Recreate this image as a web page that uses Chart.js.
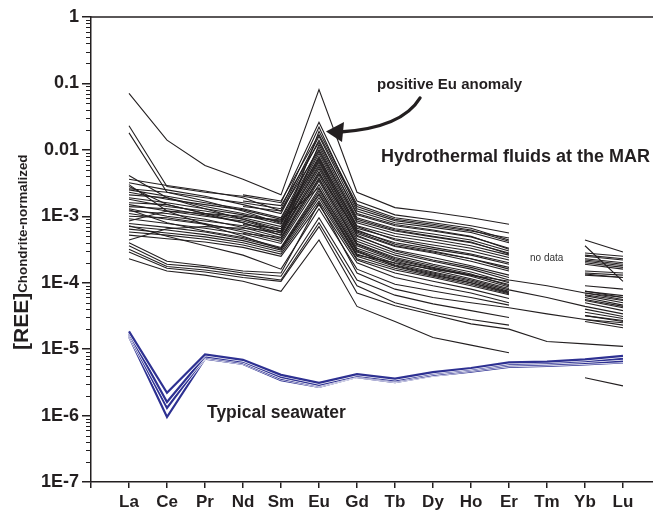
<!DOCTYPE html>
<html>
<head>
<meta charset="utf-8">
<script src="https://cdn.jsdelivr.net/npm/chart.js@4.4.0/dist/chart.umd.min.js"></script>
<style>
html, body { margin: 0; padding: 0; background: #fff; }
canvas { display: block; }
</style>
</head>
<body>
<canvas id="reeChart" width="653" height="512"></canvas>
<script>
// REE patterns, chondrite-normalized
var elements = ['La', 'Ce', 'Pr', 'Nd', 'Sm', 'Eu', 'Gd', 'Tb', 'Dy', 'Ho', 'Er', 'Tm', 'Yb', 'Lu'];
var yTickValues = [1e-7, 1e-6, 1e-5, 1e-4, 1e-3, 0.01, 0.1, 1];
var yTickLabels = ['1E-7', '1E-6', '1E-5', '1E-4', '1E-3', '0.01', '0.1', '1'];
var minorSteps = [2, 3, 4, 5, 6, 7, 8, 9];

// hydrothermal fluids at the MAR (null = no data)
var fluids = [
    [0.071, 0.014, 5.8e-3, 3.6e-3, 2.1e-3, 0.081, 2.3e-3, 1.35e-3, 1.15e-3, 9.5e-4, 7.6e-4, null, null, null],
    [0.023, 2.8e-3, 2.3e-3, 2.0e-3, 1.6e-3, 0.026, 1.7e-3, 1.05e-3, 8.8e-4, 7.2e-4, 5.6e-4, null, 4.4e-4, 2.9e-4],
    [0.018, 2.3e-3, 1.9e-3, 1.6e-3, 1.3e-3, 0.022, 1.3e-3, 8.6e-4, 7.2e-4, 6.0e-4, 4.7e-4, null, 3.6e-4, 1.05e-4],
    [4.1e-3, 1.9e-3, 1.3e-3, 9.0e-4, 6.0e-4, 0.019, 1.5e-3, 9.5e-4, 8.0e-4, 6.6e-4, 4.4e-4, null, 2.5e-4, 2.2e-4],
    [3.6e-3, 2.9e-3, 2.4e-3, 1.9e-3, 1.2e-3, 0.016, 1.2e-3, 8.0e-4, 6.8e-4, 5.7e-4, 4.0e-4, null, 2.3e-4, 2.0e-4],
    [3.2e-3, 2.5e-3, 2.0e-3, 1.5e-3, 1.1e-3, 0.014, 1.05e-3, 7.2e-4, 6.0e-4, 4.9e-4, 3.3e-4, null, 2.1e-4, 1.8e-4],
    [2.8e-3, 1.5e-3, 1.1e-3, 8.0e-4, 5.2e-4, 0.012, 9.5e-4, 6.5e-4, 5.4e-4, 4.4e-4, 3.0e-4, null, 2.0e-4, 1.7e-4],
    [2.5e-3, 2.0e-3, 1.6e-3, 1.3e-3, 9.5e-4, 0.011, 8.5e-4, 6.0e-4, 4.9e-4, 4.0e-4, 2.8e-4, null, 1.5e-4, 1.4e-4],
    [2.3e-3, 1.8e-3, 1.5e-3, 1.25e-3, 9.0e-4, 9.5e-3, 8.0e-4, 5.5e-4, 4.5e-4, 3.6e-4, 2.6e-4, null, 1.4e-4, 1.3e-4],
    [2.1e-3, 1.9e-3, 1.4e-3, 1.1e-3, 8.2e-4, 8.8e-3, 7.2e-4, 5.0e-4, 4.1e-4, 3.3e-4, 2.4e-4, null, 1.35e-4, 1.2e-4],
    [1.9e-3, 1.6e-3, 1.3e-3, 1.05e-3, 7.6e-4, 8.0e-3, 6.6e-4, 4.6e-4, 3.7e-4, 3.0e-4, 2.2e-4, null, null, null],
    [1.8e-3, 1.4e-3, 1.2e-3, 9.5e-4, 7.0e-4, 7.2e-3, 6.0e-4, 4.0e-4, 3.2e-4, 2.6e-4, 1.9e-4, null, null, null],
    [1.6e-3, 1.5e-3, 1.1e-3, 9.0e-4, 6.5e-4, 6.5e-3, 5.5e-4, 3.5e-4, 2.8e-4, 2.1e-4, 1.5e-4, null, 7.5e-5, 6.0e-5],
    [1.5e-3, 1.2e-3, 1.0e-3, 8.5e-4, 6.0e-4, 6.0e-3, 5.0e-4, 3.1e-4, 2.4e-4, 1.8e-4, 1.3e-4, null, 7.0e-5, 5.6e-5],
    [1.4e-3, 1.3e-3, 1.05e-3, 8.0e-4, 5.6e-4, 5.2e-3, 4.6e-4, 2.8e-4, 2.1e-4, 1.6e-4, 1.1e-4, 9.0e-5, 7.0e-5, 6.0e-5],
    [1.3e-3, 1.0e-3, 8.5e-4, 7.2e-4, 5.2e-4, 4.7e-3, 4.2e-4, 2.6e-4, 1.9e-4, 1.45e-4, 1.0e-4, null, 6.4e-5, 5.0e-5],
    [1.2e-3, 1.1e-3, 9.0e-4, 6.8e-4, 4.8e-4, 4.2e-3, 3.9e-4, 2.4e-4, 1.8e-4, 1.35e-4, 9.0e-5, null, 6.0e-5, 4.6e-5],
    [1.1e-3, 9.0e-4, 7.6e-4, 6.2e-4, 4.5e-4, 3.8e-3, 3.6e-4, 2.2e-4, 1.65e-4, 1.25e-4, 8.6e-5, null, 5.4e-5, 4.2e-5],
    [1.0e-3, 9.5e-4, 7.8e-4, 5.8e-4, 4.2e-4, 3.4e-3, 3.3e-4, 2.1e-4, 1.55e-4, 1.15e-4, 8.2e-5, null, 5.0e-5, 3.8e-5],
    [9.2e-4, 7.8e-4, 6.6e-4, 5.4e-4, 3.9e-4, 3.0e-3, 3.1e-4, 1.95e-4, 1.45e-4, 1.1e-4, 7.8e-5, 6.0e-5, 4.4e-5, 3.4e-5],
    [8.5e-4, 1.2e-3, 1.1e-3, 1.0e-3, 8.8e-4, 2.7e-3, 2.9e-4, 1.85e-4, 1.4e-4, 1.05e-4, 7.4e-5, null, 4.0e-5, 3.1e-5],
    [7.8e-4, 6.8e-4, 5.8e-4, 4.6e-4, 3.3e-4, 2.4e-3, 2.7e-4, 1.75e-4, 1.3e-4, 1.0e-4, 7.0e-5, null, 3.6e-5, 2.9e-5],
    [7.0e-4, 6.2e-4, 5.3e-4, 4.3e-4, 3.1e-4, 2.1e-3, 2.5e-4, 1.65e-4, 1.25e-4, 9.5e-5, 6.8e-5, null, 3.2e-5, 2.7e-5],
    [6.4e-4, 5.6e-4, 4.9e-4, 4.0e-4, 2.9e-4, 1.9e-3, 2.3e-4, 1.55e-4, 1.2e-4, 9.0e-5, 6.6e-5, null, 2.8e-5, 2.5e-5],
    [5.8e-4, 5.2e-4, 4.5e-4, 3.7e-4, 2.7e-4, 1.7e-3, 2.2e-4, 1.4e-4, 1.05e-4, 8.0e-5, 5.8e-5, null, null, null],
    [5.2e-4, 4.6e-4, 4.1e-4, 3.4e-4, 2.5e-4, 1.5e-3, 2.0e-4, 1.2e-4, 9.0e-5, 7.0e-5, 5.0e-5, null, null, null],
    [null, null, null, 2.1e-3, 1.7e-3, 0.017, 1.4e-3, 9.0e-4, 7.6e-4, 6.2e-4, 4.2e-4, null, 2.6e-4, 2.3e-4],
    [null, null, null, 1.7e-3, 1.45e-3, 0.013, 1.1e-3, 7.5e-4, 6.2e-4, 5.0e-4, 3.2e-4, null, 2.2e-4, 1.9e-4],
    [null, null, null, 1.4e-3, 1.2e-3, 0.010, 9.0e-4, 6.2e-4, 5.0e-4, 4.1e-4, 2.7e-4, null, 1.9e-4, 1.6e-4],
    [null, null, null, 1.0e-3, 8.5e-4, 7.5e-3, 7.0e-4, 4.4e-4, 3.4e-4, 2.7e-4, 2.0e-4, null, 1.3e-4, 1.2e-4],
    [null, null, null, 7.5e-4, 6.5e-4, 5.6e-3, 5.2e-4, 3.0e-4, 2.2e-4, 1.7e-4, 1.2e-4, null, 6.6e-5, 5.4e-5],
    [null, null, null, 5.5e-4, 4.8e-4, 3.6e-3, 3.8e-4, 2.3e-4, 1.7e-4, 1.3e-4, 9.4e-5, null, 5.6e-5, 4.4e-5],
    [4.0e-4, 2.1e-4, 1.8e-4, 1.5e-4, 1.4e-4, 1.6e-3, 1.4e-4, 8.0e-5, 6.0e-5, 5.0e-5, 4.2e-5, 3.4e-5, 2.8e-5, 2.3e-5],
    [3.6e-4, 1.9e-4, 1.7e-4, 1.4e-4, 1.25e-4, 9.5e-4, 1.1e-4, 6.5e-5, 4.8e-5, 3.8e-5, 3.0e-5, null, 2.6e-5, 2.1e-5],
    [3.2e-4, 1.75e-4, 1.55e-4, 1.3e-4, 1.1e-4, 8.0e-4, 9.0e-5, 5.0e-5, 3.6e-5, 2.8e-5, 2.3e-5, null, null, null],
    [2.9e-4, 1.65e-4, 1.45e-4, 1.2e-4, 1.05e-4, 7.0e-4, 7.0e-5, 4.5e-5, 3.3e-5, 2.4e-5, 2.0e-5, 1.3e-5, 1.2e-5, 1.1e-5],
    [2.3e-4, 1.5e-4, 1.3e-4, 1.05e-4, 7.4e-5, 4.4e-4, 4.4e-5, 2.6e-5, 1.5e-5, 1.15e-5, 8.8e-6, null, 3.7e-6, 2.8e-6],
    [7.2e-4, 5.0e-4, 3.6e-4, 2.6e-4, 1.6e-4, 1.3e-3, 1.6e-4, 9.5e-5, 7.5e-5, 6.0e-5, 4.6e-5, null, 3.2e-5, 2.6e-5],
    [1.25e-3, 8.0e-4, 6.0e-4, 4.8e-4, 3.4e-4, 2.6e-3, 3.0e-4, 1.8e-4, 1.35e-4, 1.0e-4, 7.2e-5, null, null, null],
    [2.6e-3, 2.3e-3, 1.7e-3, 1.2e-3, 7.8e-4, 6.8e-3, 6.2e-4, 3.8e-4, 3.0e-4, 2.3e-4, 1.7e-4, null, 9.0e-5, 8.0e-5],
    [4.4e-4, 6.5e-4, 7.0e-4, 6.6e-4, 5.8e-4, 4.4e-3, 5.8e-4, 3.6e-4, 2.9e-4, 2.3e-4, 1.6e-4, null, 2.8e-4, 2.5e-4],
    [3.0e-3, 1.2e-3, 7.5e-4, 5.0e-4, 3.2e-4, 2.2e-3, 2.6e-4, 2.0e-4, 1.6e-4, 1.3e-4, 1.05e-4, null, 7.4e-5, 6.4e-5]
];

// typical seawater
var seawater = [
    [1.85e-5, 2.2e-6, 8.3e-6, 6.9e-6, 4.1e-6, 3.1e-6, 4.2e-6, 3.6e-6, 4.5e-6, 5.2e-6, 6.3e-6, 6.5e-6, 7.0e-6, 7.9e-6],
    [1.75e-5, 1.6e-6, 7.8e-6, 6.5e-6, 3.8e-6, 2.9e-6, 4.0e-6, 3.4e-6, 4.3e-6, 5.0e-6, 6.0e-6, 6.2e-6, 6.6e-6, 7.2e-6],
    [1.65e-5, 1.3e-6, 7.5e-6, 6.2e-6, 3.6e-6, 2.8e-6, 3.9e-6, 3.3e-6, 4.1e-6, 4.8e-6, 5.7e-6, 5.9e-6, 6.2e-6, 6.6e-6],
    [1.55e-5, 9.5e-7, 7.2e-6, 6.0e-6, 3.4e-6, 2.7e-6, 3.8e-6, 3.2e-6, 4.0e-6, 4.6e-6, 5.4e-6, 5.6e-6, 5.9e-6, 6.3e-6]
];

var ink = '#231f20';
var blue = '#2e3192';
var fontFamily = '"Liberation Sans", Arial, sans-serif';

function toPoints(row) {
    return row.map(function(v, i) { return {x: i + 1, y: v}; });
}

var datasets = [];
fluids.forEach(function(row) {
    datasets.push({
        data: toPoints(row),
        borderColor: ink,
        borderWidth: 1.1,
        pointRadius: 0,
        spanGaps: false,
        order: 100
    });
});
seawater.forEach(function(row, k) {
    // white underlay gives the thin gaps between the blue lines
    datasets.push({
        data: toPoints(row),
        borderColor: '#ffffff',
        borderWidth: 3.6,
        pointRadius: 0,
        order: 2 * k + 1
    });
    datasets.push({
        data: toPoints(row),
        borderColor: blue,
        borderWidth: 2.2,
        pointRadius: 0,
        order: 2 * k
    });
});

var decor = {
    id: 'decor',
    afterDraw: function(chart) {
        var ctx = chart.ctx;
        var a = chart.chartArea;
        var y = chart.scales.y;
        ctx.save();
        ctx.strokeStyle = ink;
        ctx.fillStyle = ink;

        // top frame line
        ctx.lineWidth = 1.5;
        ctx.beginPath();
        ctx.moveTo(a.left, a.top);
        ctx.lineTo(a.right, a.top);
        ctx.stroke();

        // minor log ticks
        ctx.lineWidth = 1;
        for (var i = 0; i < yTickValues.length - 1; i++) {
            for (var j = 0; j < minorSteps.length; j++) {
                var py = Math.round(y.getPixelForValue(yTickValues[i] * minorSteps[j])) + 0.5;
                ctx.beginPath();
                ctx.moveTo(a.left - 5, py);
                ctx.lineTo(a.left, py);
                ctx.stroke();
            }
        }

        // y axis title
        ctx.save();
        ctx.translate(28, 350);
        ctx.rotate(-Math.PI / 2);
        ctx.textAlign = 'left';
        ctx.textBaseline = 'alphabetic';
        ctx.font = 'bold 21px ' + fontFamily;
        ctx.fillText('[REE]', 0, 0);
        var w = ctx.measureText('[REE]').width;
        ctx.font = 'bold 13.4px ' + fontFamily;
        ctx.fillText('Chondrite-normalized', w, -1);
        ctx.restore();

        // labels
        ctx.textAlign = 'left';
        ctx.textBaseline = 'alphabetic';
        ctx.font = 'bold 15px ' + fontFamily;
        ctx.fillText('positive Eu anomaly', 377, 89);
        ctx.font = 'bold 18px ' + fontFamily;
        ctx.fillText('Hydrothermal fluids at the MAR', 381, 162);
        ctx.font = 'bold 17.5px ' + fontFamily;
        ctx.fillText('Typical seawater', 207, 418);
        ctx.font = '10px ' + fontFamily;
        ctx.fillStyle = '#333';
        ctx.fillText('no data', 530, 261);

        // curved arrow to the Eu peak
        ctx.strokeStyle = ink;
        ctx.fillStyle = ink;
        ctx.lineWidth = 3.4;
        ctx.lineCap = 'round';
        ctx.beginPath();
        ctx.moveTo(420, 98);
        ctx.quadraticCurveTo(402, 128, 340, 132);
        ctx.stroke();
        ctx.beginPath();
        ctx.moveTo(326, 131.5);
        ctx.lineTo(344, 122);
        ctx.lineTo(342, 142);
        ctx.closePath();
        ctx.fill();
        ctx.restore();
    }
};

new Chart(document.getElementById('reeChart'), {
    type: 'line',
    data: {datasets: datasets},
    plugins: [decor],
    options: {
        responsive: false,
        animation: false,
        devicePixelRatio: 1,
        layout: {padding: {top: 17, right: 0, bottom: 0, left: 0}},
        plugins: {legend: {display: false}, tooltip: {enabled: false}},
        elements: {line: {tension: 0}},
        scales: {
            x: {
                type: 'linear',
                min: 0,
                max: 14.79,
                afterBuildTicks: function(s) {
                    s.ticks = [{value: 0}].concat(elements.map(function(e, i) { return {value: i + 1}; }));
                },
                afterFit: function(s) { s.height = 30; },
                ticks: {
                    autoSkip: false,
                    maxRotation: 0,
                    padding: 4,
                    color: ink,
                    font: {family: fontFamily, size: 17, weight: 'bold'},
                    callback: function(v) { return elements[v - 1] || ''; }
                },
                grid: {drawOnChartArea: false, tickLength: 6, color: ink, lineWidth: 1.5},
                border: {display: true, color: ink, width: 1.5}
            },
            y: {
                type: 'logarithmic',
                min: 1e-7,
                max: 1,
                afterBuildTicks: function(s) {
                    s.ticks = yTickValues.map(function(v) { return {value: v}; });
                },
                afterFit: function(s) { s.width = 91; },
                ticks: {
                    autoSkip: false,
                    padding: 3,
                    color: ink,
                    font: {family: fontFamily, size: 18, weight: 'bold'},
                    callback: function(v, i) { return yTickLabels[i]; }
                },
                grid: {drawOnChartArea: false, tickLength: 9, color: ink, lineWidth: 1.5},
                border: {display: true, color: ink, width: 1.5}
            }
        }
    }
});
</script>
</body>
</html>
